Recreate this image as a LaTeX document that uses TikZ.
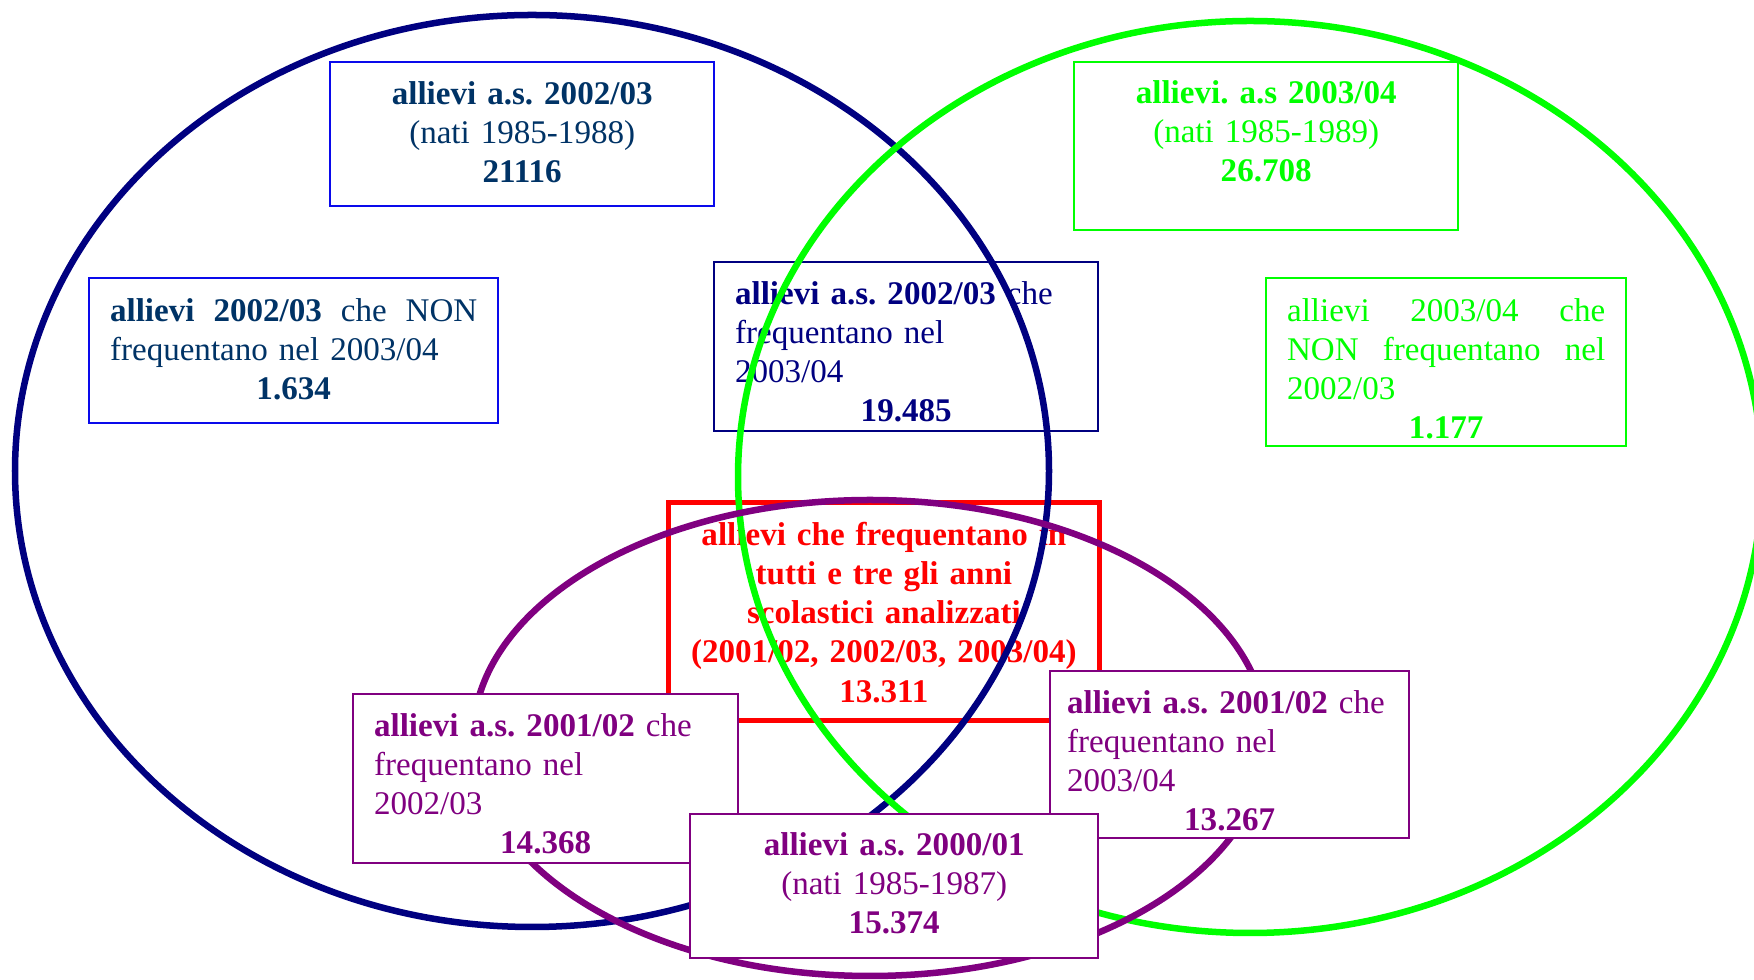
\documentclass[tikz,border=0pt]{standalone}
\usepackage{fontspec}
\setmainfont{Liberation Serif}
\definecolor{navyline}{RGB}{0,0,128}
\definecolor{boxblue}{RGB}{10,10,235}
\definecolor{navtext}{RGB}{0,51,102}
\definecolor{grn}{RGB}{0,255,0}
\definecolor{purp}{RGB}{128,0,128}
\definecolor{rd}{RGB}{255,0,0}
\begin{document}
\begin{tikzpicture}[x=0.01cm,y=-0.01cm,
box/.style={draw,fill=white,line width=0.6pt,anchor=north west,inner xsep=0.21cm,inner ysep=0pt,
  font=\fontsize{9.4}{11.15}\selectfont\frenchspacing},
navbox/.style={box,draw=boxblue,text=navtext},
navmid/.style={box,draw=navyline,text=navyline,align=left},
grnbox/.style={box,draw=grn,text=grn},
purbox/.style={box,draw=purp,text=purp},
allbox/.style={box,draw=rd,text=rd,line width=1.3pt,align=center,font=\fontsize{9.4}{11.15}\selectfont\frenchspacing\bfseries},
ring/.style={line width=1.85pt},
]
\clip(0,0)rectangle(1754,980);

%2002/03
\node[navbox,align=center,text width=3.42cm,text height=0.42cm,text depth=1.02cm](as0203)at(329,61)
{\textbf{allievi a.s. 2002/03}\\(nati 1985-1988)\\\textbf{21116}};
\node[navbox,align=left,text width=3.67cm,text height=0.43cm,text depth=1.02cm](non0203)at(88,277)
{\textbf{allievi}\hfill\textbf{2002/03}\hfill che\hfill NON\\frequentano nel 2003/04\\\hfill\textbf{1.634}\hfill\null};
\node[navmid,text width=3.42cm,text height=0.42cm,text depth=1.27cm](fr0203)at(713,261)
{\textbf{allievi a.s. 2002/03} che\\frequentano nel\\2003/04\\\hfill\textbf{19.485}\hfill\null};

%2003/04
\node[grnbox,align=center,text width=3.42cm,text height=0.41cm,text depth=1.27cm](as0304)at(1073,61)
{\textbf{allievi. a.s 2003/04}\\(nati 1985-1989)\\\textbf{26.708}};
\node[grnbox,align=left,text width=3.18cm,text height=0.43cm,text depth=1.25cm](non0304)at(1265,277)
{allievi\hfill 2003/04\hfill che\\NON\hfill frequentano\hfill nel\\2002/03\\\hfill\textbf{1.177}\hfill\null};

%tutti e tre
\node[allbox,text width=3.89cm,text height=0.43cm,text depth=1.75cm](tutti)at(666,500)
{allievi che frequentano in\\tutti e tre gli anni\\scolastici analizzati\\(2001/02, 2002/03, 2003/04)\\13.311};

%ellissi
\draw[ring,navyline](532,471)ellipse[x radius=517,y radius=456];
\draw[ring,grn](1250,477)ellipse[x radius=512,y radius=456];
\draw[ring,purp](870,738)ellipse[x radius=397,y radius=238];

%2000/01 - 2001/02
\node[purbox,align=left,text width=3.43cm,text height=0.42cm,text depth=1.27cm](fr0102a)at(352,693)
{\textbf{allievi a.s. 2001/02} che\\frequentano nel\\2002/03\\\hfill\textbf{14.368}\hfill\null};
\node[purbox,align=left,inner xsep=0.17cm,text width=3.25cm,text height=0.42cm,text depth=1.25cm](fr0102b)at(1049,670)
{\textbf{allievi a.s. 2001/02} che\\frequentano nel\\2003/04\\\hfill\textbf{13.267}\hfill\null};
\node[purbox,align=center,text width=3.66cm,text height=0.41cm,text depth=1.03cm](as0001)at(689,813)
{\textbf{allievi a.s. 2000/01}\\(nati 1985-1987)\\\textbf{15.374}};

\end{tikzpicture}
\end{document}
